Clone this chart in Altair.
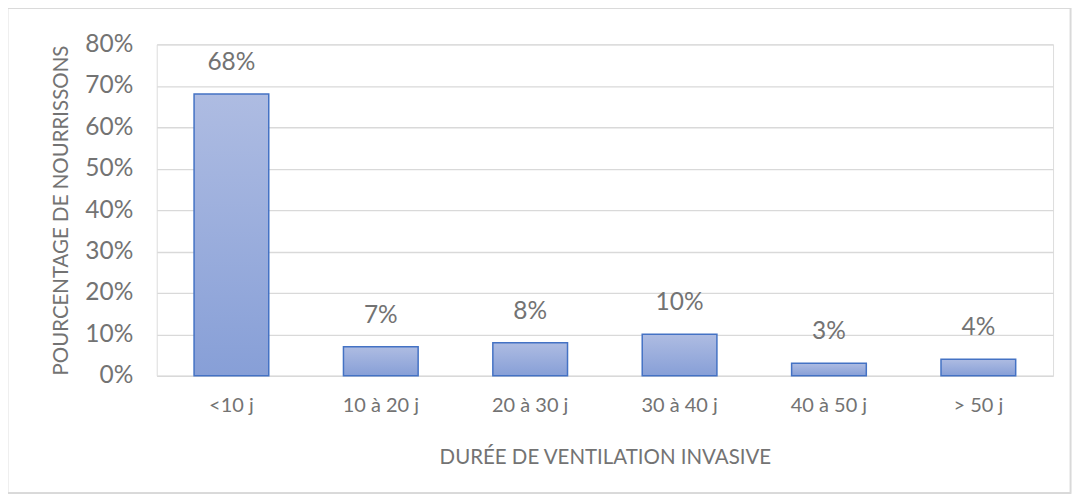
import altair as alt
import pandas as pd

categories = ["<10 j", "10 à 20 j", "20 à 30 j", "30 à 40 j", "40 à 50 j", "> 50 j"]
values = [0.68, 0.07, 0.08, 0.10, 0.03, 0.04]
y_ticks = [0, 0.1, 0.2, 0.3, 0.4, 0.5, 0.6, 0.7, 0.8]

df = pd.DataFrame({"cat": categories, "val": values})

FONT = "Lato"
GREY = "#737373"

grad = alt.LinearGradient(
    gradient="linear",
    stops=[alt.GradientStop(color="#aebce2", offset=0),
           alt.GradientStop(color="#879fd7", offset=1)],
    x1=0, x2=0, y1=0, y2=1,
)

x = alt.X("cat:N", sort=categories,
          scale=alt.Scale(paddingInner=0.5, paddingOuter=0.25),
          axis=alt.Axis(title="DURÉE DE VENTILATION INVASIVE", labelAngle=0,
                        labelFontSize=20, titleFontSize=20.5, labelColor=GREY,
                        titleColor=GREY, labelFont=FONT, titleFont=FONT,
                        domain=False, ticks=False, labelPadding=20,
                        titlePadding=32, titleFontWeight="normal"))
y = alt.Y("val:Q", scale=alt.Scale(domain=[0, 0.8]),
          axis=alt.Axis(values=y_ticks, format=".0%", title="POURCENTAGE DE NOURRISSONS",
                        labelFontSize=24.5, titleFontSize=20.5, labelColor=GREY,
                        titleColor=GREY, labelFont=FONT, titleFont=FONT,
                        domain=False, ticks=False, labelPadding=24,
                        gridColor="#d9d9d9", gridWidth=1.3, titlePadding=13,
                        titleFontWeight="normal"))

bars = alt.Chart(df).mark_bar(color=grad, stroke="#4472c4", strokeWidth=1.5).encode(x=x, y=y)
labels = alt.Chart(df).mark_text(baseline="alphabetic", dy=-24, fontSize=24.5, font=FONT,
                                 color=GREY).encode(
    x=alt.X("cat:N", sort=categories), y="val:Q",
    text=alt.Text("val:Q", format=".0%"))

border = alt.Chart(df).mark_rect(fill=None, stroke="#d9d9d9", strokeWidth=1.2).encode(
    x=alt.value(-149.5), x2=alt.value(915.5), y=alt.value(-36.5), y2=alt.value(449.5))

chart = alt.layer(bars, labels, border).properties(
    width=898, height=332,
    autosize=alt.AutoSizeParams(type="none"),
    padding={"left": 149, "top": 36, "right": 19, "bottom": 120},
).configure_view(stroke=None).configure(background="white")

chart.save("out.html", embed_options={"renderer": "svg", "actions": False})
